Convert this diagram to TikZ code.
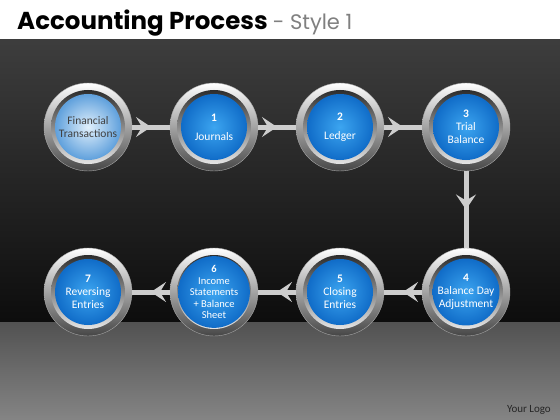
\documentclass[tikz,border=0pt]{standalone}
\usepackage{fontspec}
\setmainfont{Carlito}
\newfontfamily\titlefont{Poppins}
\usetikzlibrary{arrows.meta}
\usetikzlibrary{decorations.markings}

\definecolor{stepblue}{RGB}{16,108,200}
\definecolor{stepsky}{RGB}{60,165,240}
\definecolor{firstsky}{RGB}{225,240,252}
\definecolor{firstblue}{RGB}{95,160,220}
\definecolor{linkgray}{RGB}{205,205,205}

\tikzset{
  ring/.style={circle, minimum size=88pt, inner sep=0pt, draw=gray!70,
    top color=white, bottom color=gray!55!black},
  bevel/.style={circle, minimum size=74pt, inner sep=0pt,
    top color=gray!35!black, bottom color=gray!20},
  ball/.style={circle, minimum size=66pt, inner sep=0pt, align=center,
    inner color=stepsky, outer color=stepblue, text=white,
    font=\fontsize{11.5}{13}\selectfont},
  firstball/.style={ball, inner color=firstsky, outer color=firstblue,
    text=black!75},
  link/.style={line width=5pt, draw=linkgray, postaction={decorate},
    decoration={markings, mark=at position 0.5 with
      {\arrow[linkgray]{Stealth[length=15pt,width=20pt,inset=6pt]}}}},
}

\begin{document}
\begin{tikzpicture}[x=1pt,y=-1pt]

\useasboundingbox (0,0) rectangle (560,420);

% background
\fill[white] (0,0) rectangle (560,40);
\shade[top color=black!76, bottom color=black!95] (0,40) rectangle (560,322);
\shade[top color=black!68, bottom color=black!48] (0,322) rectangle (560,420);

\node[anchor=base west, inner sep=0pt, font=\titlefont\bfseries\fontsize{24.5}{25}\selectfont] (title) at (17,30)
  {Accounting Process {\mdseries\color{gray}\fontsize{21}{21}\selectfont - Style 1}};
\node[anchor=base east, inner sep=0pt, text=black!85, font=\fontsize{11}{11}\selectfont] (logo) at (551,412) {Your Logo};

% rings
\node[ring] (r0) at (88,127) {};
\node[ring] (r1) at (214,127) {};
\node[ring] (r2) at (340,127) {};
\node[ring] (r3) at (466,127) {};
\node[ring] (r4) at (466,292) {};
\node[ring] (r5) at (340,292) {};
\node[ring] (r6) at (214,292) {};
\node[ring] (r7) at (88,292) {};

% connectors
\draw[link] (r0) -- (r1);
\draw[link] (r1) -- (r2);
\draw[link] (r2) -- (r3);
\draw[link] (r3) -- (r4);
\draw[link] (r4) -- (r5);
\draw[link] (r5) -- (r6);
\draw[link] (r6) -- (r7);

\node[bevel] (b0) at (r0) {};
\node[bevel] (b1) at (r1) {};
\node[bevel] (b2) at (r2) {};
\node[bevel] (b3) at (r3) {};
\node[bevel] (b4) at (r4) {};
\node[bevel] (b5) at (r5) {};
\node[bevel] (b6) at (r6) {};
\node[bevel] (b7) at (r7) {};

% steps
\node[firstball] (s0) at (r0) {Financial\\Transactions};
\node[ball] (s1) at (r1) {{\bfseries 1}\\[6pt]Journals};
\node[ball] (s2) at (r2) {{\bfseries 2}\\[6pt]Ledger};
\node[ball] (s3) at (r3) {{\bfseries 3}\\Trial\\Balance};
\node[ball] (s4) at (r4) {{\bfseries 4}\\Balance Day\\Adjustment};
\node[ball] (s5) at (r5) {{\bfseries 5}\\Closing\\Entries};
\node[ball, font=\fontsize{10.5}{11.5}\selectfont] (s6) at (r6) {{\bfseries 6}\\Income\\Statements\\+ Balance\\Sheet};
\node[ball] (s7) at (r7) {{\bfseries 7}\\Reversing\\Entries};

\end{tikzpicture}
\end{document}
